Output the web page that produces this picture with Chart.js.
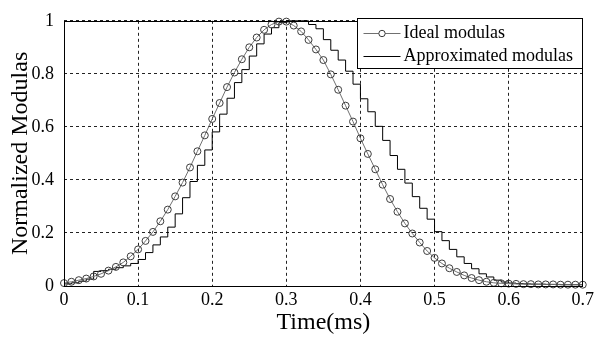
<!DOCTYPE html>
<html>
<head>
<meta charset="utf-8">
<script src="https://cdn.jsdelivr.net/npm/chart.js@4"></script>
<style>
  html, body { margin: 0; padding: 0; background: #fff; }
  #wrap { width: 597px; height: 347px; position: relative; }
</style>
</head>
<body>
<div id="wrap"><canvas id="modChart" width="597" height="347"></canvas></div>
<script>
// time axis (ms), one sample every 0.01 ms
const times = [
  0.00, 0.01, 0.02, 0.03, 0.04, 0.05, 0.06, 0.07, 0.08, 0.09,
  0.10, 0.11, 0.12, 0.13, 0.14, 0.15, 0.16, 0.17, 0.18, 0.19,
  0.20, 0.21, 0.22, 0.23, 0.24, 0.25, 0.26, 0.27, 0.28, 0.29,
  0.30, 0.31, 0.32, 0.33, 0.34, 0.35, 0.36, 0.37, 0.38, 0.39,
  0.40, 0.41, 0.42, 0.43, 0.44, 0.45, 0.46, 0.47, 0.48, 0.49,
  0.50, 0.51, 0.52, 0.53, 0.54, 0.55, 0.56, 0.57, 0.58, 0.59,
  0.60, 0.61, 0.62, 0.63, 0.64, 0.65, 0.66, 0.67, 0.68, 0.69,
  0.70
];

const idealModulas = [
  0.011, 0.016, 0.022, 0.028, 0.036, 0.046, 0.058, 0.072, 0.089, 0.112,
  0.138, 0.170, 0.204, 0.244, 0.288, 0.338, 0.390, 0.447, 0.508, 0.568,
  0.630, 0.690, 0.750, 0.805, 0.855, 0.900, 0.937, 0.966, 0.986, 0.997,
  0.997, 0.982, 0.960, 0.928, 0.892, 0.852, 0.798, 0.740, 0.680, 0.620,
  0.557, 0.498, 0.440, 0.382, 0.328, 0.280, 0.236, 0.198, 0.164, 0.132,
  0.106, 0.085, 0.067, 0.053, 0.040, 0.030, 0.022, 0.016, 0.012, 0.010,
  0.009, 0.008, 0.007, 0.007, 0.006, 0.006, 0.006, 0.005, 0.005, 0.005,
  0.005
];

// staircase levels, each held from t to t+0.01
const approxModulas = [
  0.008, 0.012, 0.018, 0.026, 0.055, 0.058, 0.063, 0.069, 0.076, 0.085,
  0.100, 0.126, 0.155, 0.185, 0.222, 0.272, 0.333, 0.394, 0.455, 0.513,
  0.581, 0.648, 0.708, 0.767, 0.816, 0.867, 0.913, 0.950, 0.974, 0.993,
  1.000, 1.000, 1.000, 0.986, 0.970, 0.929, 0.889, 0.852, 0.810, 0.761,
  0.706, 0.657, 0.602, 0.549, 0.492, 0.440, 0.388, 0.337, 0.293, 0.252,
  0.205, 0.171, 0.138, 0.110, 0.085, 0.065, 0.046, 0.034, 0.022, 0.015,
  0.011, 0.009, 0.008, 0.007, 0.007, 0.006, 0.006, 0.005, 0.005, 0.005,
  0.005
];

const xTickLabels = ['0', '0.1', '0.2', '0.3', '0.4', '0.5', '0.6', '0.7'];
const yTickLabels = ['0', '0.2', '0.4', '0.6', '0.8', '1'];
const seriesNames = ['Ideal modulas', 'Approximated modulas'];

const serif = 'Liberation Serif, Times New Roman, serif';
Chart.defaults.font.family = serif;
Chart.defaults.color = '#000';

const idealLine = '#707070';
const idealMarker = '#3c3c3c';
const approxLine = '#000000';

// box around the plot + the boxed legend, MATLAB style
const framePlugin = {
    id: 'frame',
    afterDraw(chart) {
        const ctx = chart.ctx;
        const a = chart.chartArea;
        ctx.save();
        ctx.strokeStyle = '#000';
        ctx.lineWidth = 1;
        ctx.setLineDash([]);
        ctx.strokeRect(Math.round(a.left) + 0.5, Math.round(a.top) + 0.5,
            Math.round(a.right - a.left) - 1, Math.round(a.bottom - a.top));

        // legend box
        const bx = 357.5, by = 18.5, bw = 225, bh = 50;
        ctx.fillStyle = '#fff';
        ctx.fillRect(bx, by, bw, bh);
        ctx.strokeRect(bx, by, bw, bh);

        const rows = [by + 15, by + 38];
        const x0 = bx + 6, x1 = bx + 43;
        // ideal sample
        ctx.strokeStyle = idealLine;
        ctx.beginPath();
        ctx.moveTo(x0, rows[0]);
        ctx.lineTo(x1, rows[0]);
        ctx.stroke();
        ctx.strokeStyle = idealMarker;
        ctx.fillStyle = '#fff';
        ctx.beginPath();
        ctx.arc((x0 + x1) / 2, rows[0], 3.2, 0, Math.PI * 2);
        ctx.fill();
        ctx.stroke();
        // approx sample
        ctx.strokeStyle = approxLine;
        ctx.beginPath();
        ctx.moveTo(x0, rows[1]);
        ctx.lineTo(x1, rows[1]);
        ctx.stroke();

        ctx.fillStyle = '#000';
        ctx.font = '18px ' + serif;
        ctx.textBaseline = 'middle';
        ctx.textAlign = 'left';
        ctx.fillText(seriesNames[0], x1 + 3, rows[0]);
        ctx.fillText(seriesNames[1], x1 + 3, rows[1]);
        ctx.restore();
    }
};

const ctx = document.getElementById('modChart').getContext('2d');
new Chart(ctx, {
    type: 'line',
    data: {
        datasets: [{
            label: seriesNames[0],
            data: times.map((t, i) => ({ x: t, y: idealModulas[i] })),
            borderColor: idealLine,
            borderWidth: 1,
            pointRadius: 3.5,
            pointBorderColor: idealMarker,
            pointBackgroundColor: 'rgba(0,0,0,0)',
            pointBorderWidth: 1,
            tension: 0,
            clip: 6
        }, {
            label: seriesNames[1],
            data: times.map((t, i) => ({ x: t, y: approxModulas[i] })),
            borderColor: approxLine,
            borderWidth: 1,
            pointRadius: 0,
            stepped: 'before',
            clip: 2
        }]
    },
    options: {
        responsive: false,
        animation: false,
        devicePixelRatio: 1,
        layout: { padding: { top: 13, right: 13, left: 0, bottom: 0 } },
        plugins: { legend: { display: false }, tooltip: { enabled: false } },
        scales: {
            x: {
                type: 'linear',
                min: 0,
                max: 0.7,
                afterFit: s => { s.height = 61; },
                ticks: {
                    stepSize: 0.1,
                    padding: 3,
                    font: { size: 18 },
                    callback: (v, i) => xTickLabels[i]
                },
                grid: { color: '#222', lineWidth: 1, drawTicks: false },
                border: { display: false, dash: [3, 3] },
                title: {
                    display: true,
                    text: 'Time(ms)',
                    font: { size: 24 },
                    padding: { top: 0, bottom: 10 }
                }
            },
            y: {
                min: 0,
                max: 1,
                afterFit: s => { s.width = 64; },
                ticks: {
                    stepSize: 0.2,
                    padding: 10,
                    font: { size: 18 },
                    callback: (v, i) => yTickLabels[i]
                },
                grid: { color: '#222', lineWidth: 1, drawTicks: false },
                border: { display: false, dash: [3, 3] },
                title: {
                    display: true,
                    text: 'Normalized Modulas',
                    font: { size: 24 },
                    padding: { top: 6, bottom: 0 }
                }
            }
        }
    },
    plugins: [framePlugin]
});
</script>
</body>
</html>
